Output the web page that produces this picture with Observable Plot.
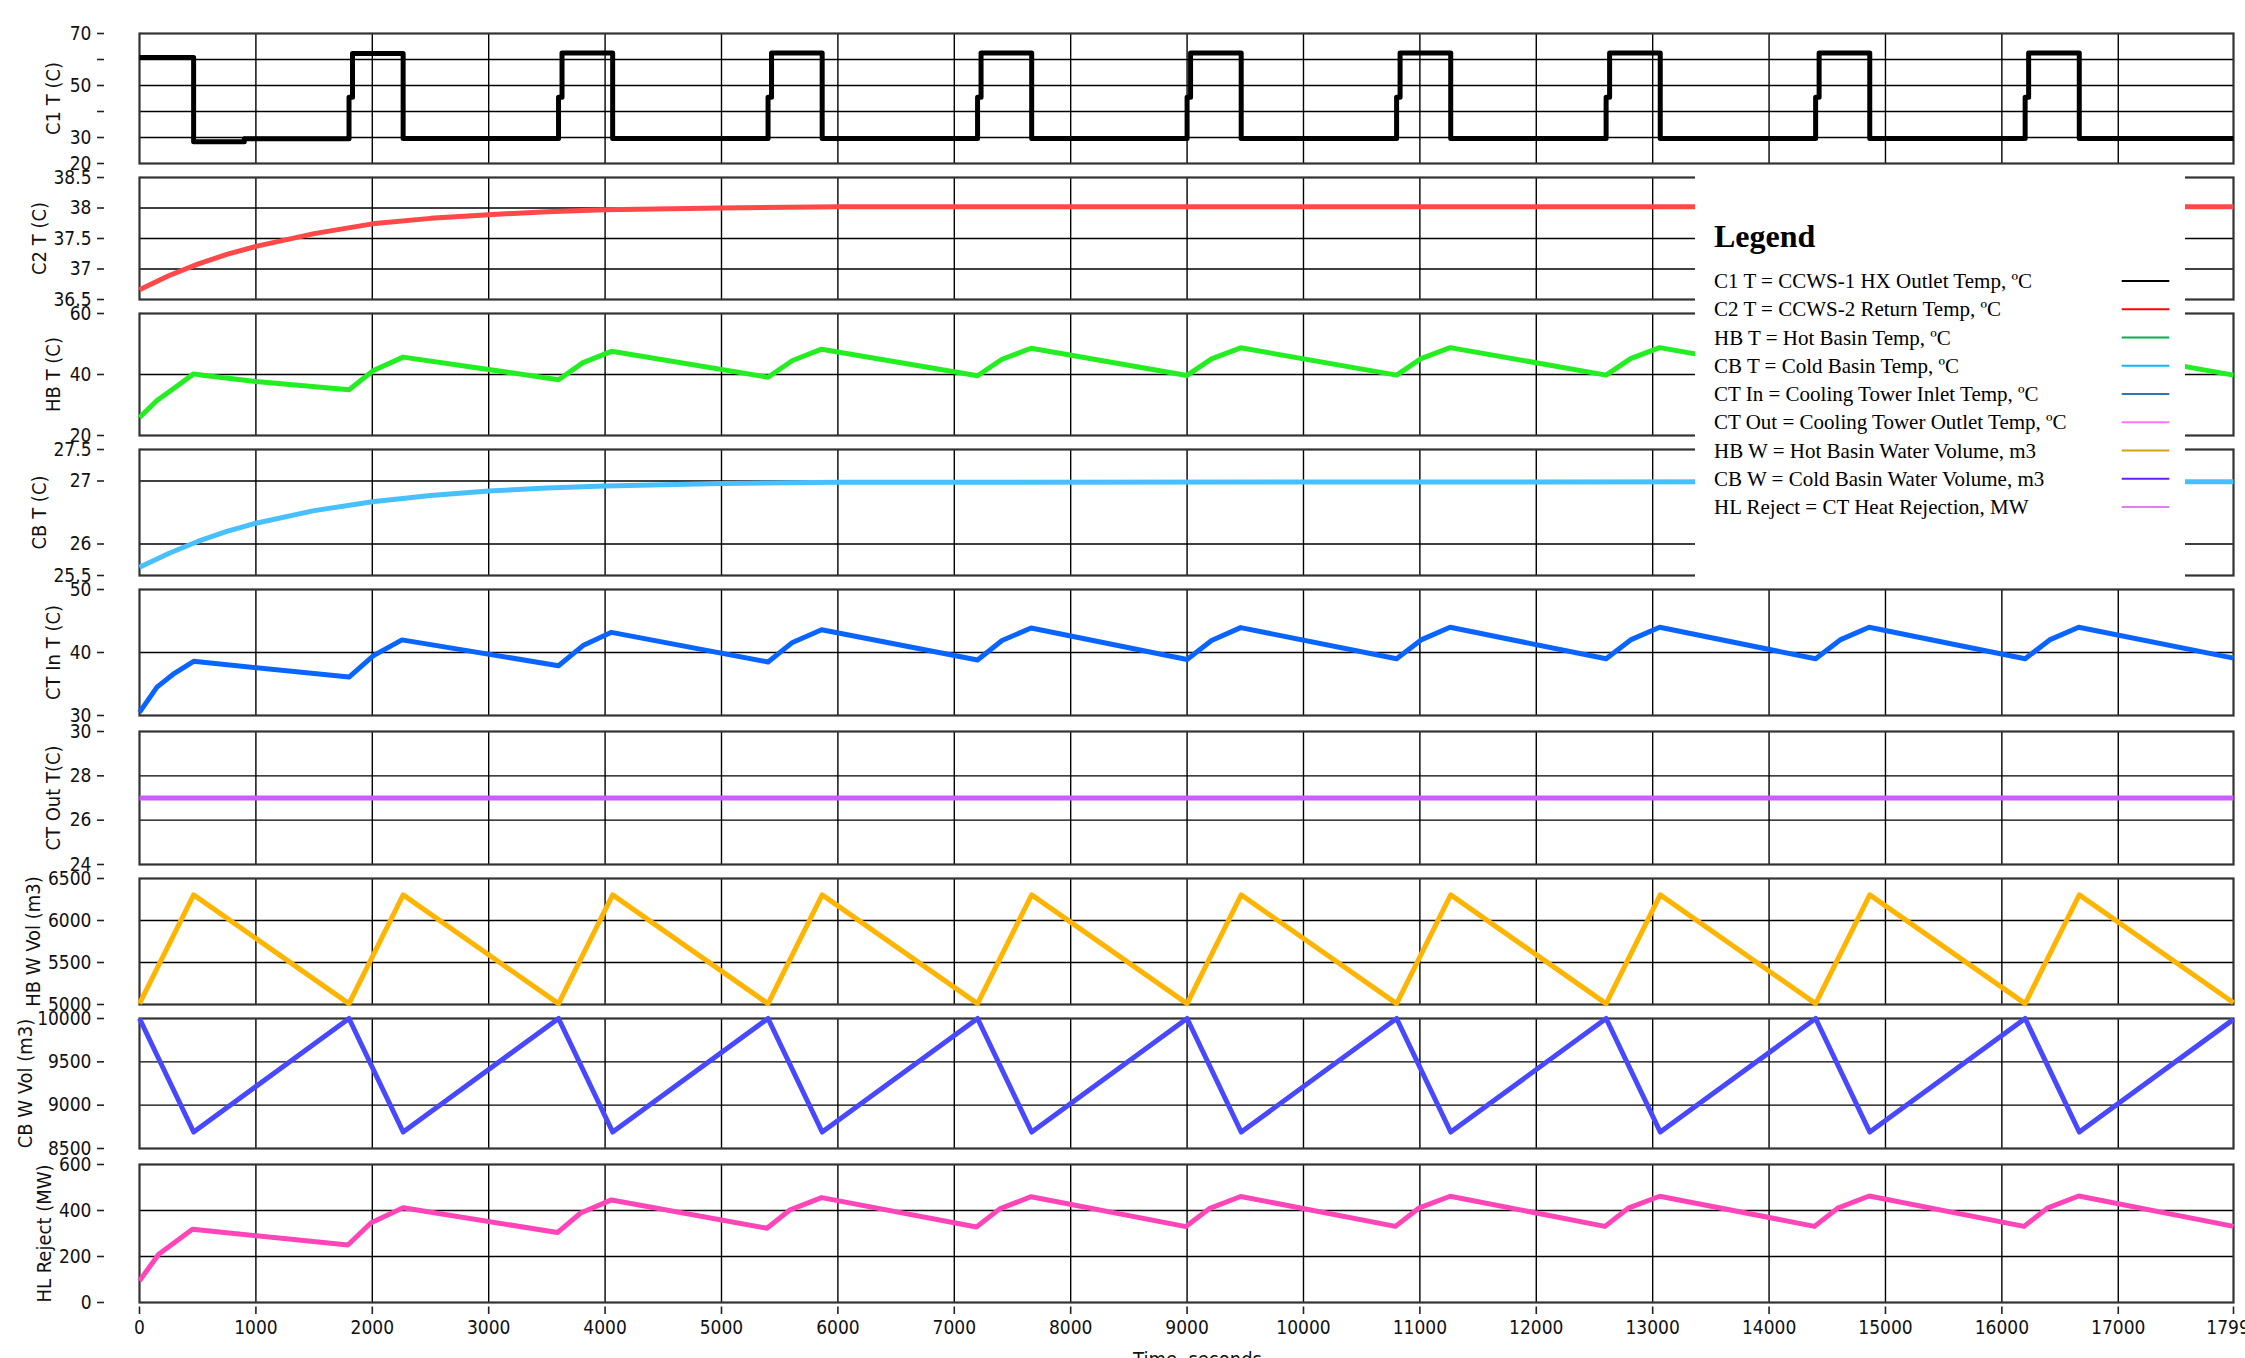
<!DOCTYPE html>
<html>
<head>
<meta charset="utf-8">
<script src="https://cdn.jsdelivr.net/npm/d3@7"></script>
<script src="https://cdn.jsdelivr.net/npm/@observablehq/plot@0.6"></script>
<style>
html, body { margin: 0; padding: 0; background: #fff; overflow: hidden; width: 2245px; height: 1358px; }
#chart { position: relative; width: 2245px; height: 1358px; overflow: hidden; }
.panel { position: absolute; left: 0; }
#legend { position: absolute; left: 1695px; top: 166px; width: 490px; height: 421px; background: #fff; z-index: 5; }
</style>
</head>
<body>
<div id="chart"></div>
<script>
// ---------------- DATA ----------------
const xTicks = [0, 1000, 2000, 3000, 4000, 5000, 6000, 7000, 8000, 9000, 10000, 11000, 12000, 13000, 14000, 15000, 16000, 17000, 17990];
const xTickLabels = ["0", "1000", "2000", "3000", "4000", "5000", "6000", "7000", "8000", "9000", "10000", "11000", "12000", "13000", "14000", "15000", "16000", "17000", "17990"];
const xGrid = [1000, 2000, 3000, 4000, 5000, 6000, 7000, 8000, 9000, 10000, 11000, 12000, 13000, 14000, 15000, 16000, 17000];

// C1 T: CCWS-1 HX outlet temperature (step pulses)
const c1Time = [0, 465, 465, 900, 900,
  1800, 1800, 1830, 1830, 2265, 2265,
  3600, 3600, 3630, 3630, 4065, 4065,
  5400, 5400, 5430, 5430, 5865, 5865,
  7200, 7200, 7230, 7230, 7665, 7665,
  9000, 9000, 9030, 9030, 9465, 9465,
  10800, 10800, 10830, 10830, 11265, 11265,
  12600, 12600, 12630, 12630, 13065, 13065,
  14400, 14400, 14430, 14430, 14865, 14865,
  16200, 16200, 16230, 16230, 16665, 16665,
  17990];
const c1Value = [60.8, 60.8, 28.4, 28.4, 29.5,
  29.5, 45.5, 45.5, 62.3, 62.3, 29.6,
  29.6, 45.5, 45.5, 62.5, 62.5, 29.6,
  29.6, 45.5, 45.5, 62.5, 62.5, 29.6,
  29.6, 45.5, 45.5, 62.5, 62.5, 29.6,
  29.6, 45.5, 45.5, 62.5, 62.5, 29.6,
  29.6, 45.5, 45.5, 62.5, 62.5, 29.6,
  29.6, 45.5, 45.5, 62.5, 62.5, 29.6,
  29.6, 45.5, 45.5, 62.5, 62.5, 29.6,
  29.6, 45.5, 45.5, 62.5, 62.5, 29.6,
  29.6];

// C2 T: CCWS-2 return temperature
const c2Time = [0, 250, 500, 750, 1000, 1500, 2000, 2500, 3000, 3500, 4000, 5000, 6000, 17990];
const c2Value = [36.66, 36.89, 37.08, 37.24, 37.37, 37.58, 37.74, 37.83, 37.89, 37.94, 37.97, 38.0, 38.02, 38.02];

// HB T: hot basin temperature
const hbTime = [0, 150, 300, 465, 560, 1000, 1800, 2010, 2265, 3600, 3810, 4055, 5400, 5610, 5860, 7200, 7410, 7660, 9000, 9210, 9460, 10800, 11010, 11260, 12600, 12810, 13060, 14400, 14610, 14860, 16200, 16410, 16660, 17990];
const hbValue = [25.9, 31.5, 35.6, 40.2, 39.7, 37.7, 35.0, 41.3, 45.7, 38.3, 43.9, 47.6, 39.1, 44.6, 48.3, 39.6, 45.0, 48.6, 39.7, 45.1, 48.75, 39.8, 45.2, 48.8, 39.8, 45.2, 48.8, 39.8, 45.2, 48.8, 39.8, 45.2, 48.8, 39.8];

// CB T: cold basin temperature
const cbTime = [0, 250, 500, 750, 1000, 1500, 2000, 2500, 3000, 3500, 4000, 5000, 6000, 17990];
const cbValue = [25.63, 25.85, 26.04, 26.2, 26.33, 26.53, 26.67, 26.77, 26.84, 26.89, 26.92, 26.96, 26.98, 26.99];

// CT In: cooling tower inlet temperature
const ctInTime = [0, 150, 300, 465, 1800, 2010, 2255, 3600, 3810, 4055, 5400, 5610, 5860, 7200, 7410, 7660, 9000, 9210, 9460, 10800, 11010, 11260, 12600, 12810, 13060, 14400, 14610, 14860, 16200, 16410, 16660, 17990];
const ctInValue = [30.5, 34.5, 36.7, 38.6, 36.1, 39.5, 42.0, 37.9, 41.1, 43.2, 38.5, 41.6, 43.6, 38.8, 41.9, 43.9, 38.9, 41.9, 43.95, 39.0, 42.0, 44.0, 39.0, 42.0, 44.0, 39.0, 42.0, 44.0, 39.0, 42.0, 44.0, 39.1];

// CT Out: cooling tower outlet temperature
const ctOutTime = [0, 17990];
const ctOutValue = [27.0, 27.0];

// HB W: hot basin water volume
const hbwTime = [0, 465, 1800, 2265, 3600, 4065, 5400, 5865, 7200, 7665, 9000, 9465, 10800, 11265, 12600, 13065, 14400, 14865, 16200, 16665, 17990];
const hbwValue = [5010, 6305, 5010, 6305, 5010, 6305, 5010, 6305, 5010, 6305, 5010, 6305, 5010, 6305, 5010, 6305, 5010, 6305, 5010, 6305, 5020];

// CB W: cold basin water volume
const cbwTime = [0, 465, 1800, 2265, 3600, 4065, 5400, 5865, 7200, 7665, 9000, 9465, 10800, 11265, 12600, 13065, 14400, 14865, 16200, 16665, 17990];
const cbwValue = [10000, 8690, 10000, 8690, 10000, 8690, 10000, 8690, 10000, 8690, 10000, 8690, 10000, 8690, 10000, 8690, 10000, 8690, 10000, 8690, 9990];

// HL Reject: CT heat rejection
const hlTime = [0, 165, 455, 1790, 1990, 2265, 3590, 3790, 4055, 5390, 5590, 5860, 7190, 7390, 7660, 8990, 9190, 9460, 10790, 10990, 11260, 12590, 12790, 13060, 14390, 14590, 14860, 16190, 16390, 16660, 17990];
const hlValue = [94, 210, 318, 250, 347, 412, 304, 389, 446, 323, 403, 456, 328, 407, 460, 330, 408, 461, 331, 410, 462, 331, 410, 462, 331, 410, 463, 331, 410, 463, 331];

// Y-axis ticks / labels / gridlines per panel
const c1Ticks = [20, 30, 40, 50, 60, 70];
const c1TickLabels = ["20", "30", "", "50", "", "70"];
const c1Grid = [30, 40, 50, 60];
const c2Ticks = [36.5, 37, 37.5, 38, 38.5];
const c2TickLabels = ["36.5", "37", "37.5", "38", "38.5"];
const c2Grid = [37, 37.5, 38];
const hbTicks = [20, 40, 60];
const hbTickLabels = ["20", "40", "60"];
const hbGrid = [40];
const cbTicks = [25.5, 26, 27, 27.5];
const cbTickLabels = ["25.5", "26", "27", "27.5"];
const cbGrid = [26, 27];
const ctInTicks = [30, 40, 50];
const ctInTickLabels = ["30", "40", "50"];
const ctInGrid = [40];
const ctOutTicks = [24, 26, 28, 30];
const ctOutTickLabels = ["24", "26", "28", "30"];
const ctOutGrid = [26, 28];
const hbwTicks = [5000, 5500, 6000, 6500];
const hbwTickLabels = ["5000", "5500", "6000", "6500"];
const hbwGrid = [5500, 6000];
const cbwTicks = [8500, 9000, 9500, 10000];
const cbwTickLabels = ["8500", "9000", "9500", "10000"];
const cbwGrid = [9000, 9500];
const hlTicks = [0, 200, 400, 600];
const hlTickLabels = ["0", "200", "400", "600"];
const hlGrid = [200, 400];

const panelLabels = ["C1 T (C)", "C2 T (C)", "HB T (C)", "CB T (C)", "CT In T (C)", "CT Out T(C)", "HB W Vol (m3)", "CB W Vol (m3)", "HL Reject (MW)"];
const xAxisLabel = "Time, seconds";

const legendTitle = "Legend";
const legendLabels = [
  "C1 T = CCWS-1 HX Outlet Temp, ºC",
  "C2 T = CCWS-2 Return Temp, ºC",
  "HB T = Hot Basin Temp, ºC",
  "CB T = Cold Basin Temp, ºC",
  "CT In = Cooling Tower Inlet Temp, ºC",
  "CT Out = Cooling Tower Outlet Temp, ºC",
  "HB W = Hot Basin Water Volume, m3",
  "CB W = Cold Basin Water Volume, m3",
  "HL Reject = CT Heat Rejection, MW"
];
const legendColors = ["#000000", "#ff0000", "#00b050", "#19b4f8", "#2e75b6", "#ff77ff", "#d4a010", "#6a1ef5", "#dd80ee"];

// ---------------- LAYOUT / STYLE ----------------
const series = [
  {time: c1Time, value: c1Value, domain: [20, 70], ticks: c1Ticks, tickLabels: c1TickLabels, grid: c1Grid},
  {time: c2Time, value: c2Value, domain: [36.5, 38.5], ticks: c2Ticks, tickLabels: c2TickLabels, grid: c2Grid},
  {time: hbTime, value: hbValue, domain: [20, 60], ticks: hbTicks, tickLabels: hbTickLabels, grid: hbGrid},
  {time: cbTime, value: cbValue, domain: [25.5, 27.5], ticks: cbTicks, tickLabels: cbTickLabels, grid: cbGrid},
  {time: ctInTime, value: ctInValue, domain: [30, 50], ticks: ctInTicks, tickLabels: ctInTickLabels, grid: ctInGrid},
  {time: ctOutTime, value: ctOutValue, domain: [24, 30], ticks: ctOutTicks, tickLabels: ctOutTickLabels, grid: ctOutGrid},
  {time: hbwTime, value: hbwValue, domain: [5000, 6500], ticks: hbwTicks, tickLabels: hbwTickLabels, grid: hbwGrid},
  {time: cbwTime, value: cbwValue, domain: [8500, 10000], ticks: cbwTicks, tickLabels: cbwTickLabels, grid: cbwGrid},
  {time: hlTime, value: hlValue, domain: [0, 600], ticks: hlTicks, tickLabels: hlTickLabels, grid: hlGrid}
];
const lineColors = ["#000000", "#ff4848", "#22ee22", "#48c0ff", "#0a64ff", "#cc5cff", "#ffb400", "#4848ff", "#ff45b8"];
const panelTops = [33, 177, 313, 449, 589, 731, 878, 1018, 1164];
const panelBottoms = [163, 299, 435, 575, 715, 864, 1004, 1148, 1302];
const labelXs = [53, 39, 53, 39, 53, 53, 33, 25, 44];

const W = 2245, ML = 139, MR = 12;
const FONT = "'DejaVu Sans Condensed', 'DejaVu Sans', sans-serif";
const chart = document.getElementById("chart");

series.forEach((s, i) => {
  const last = i === series.length - 1;
  const mt = 14, mb = last ? 56 : 14;
  const h = panelBottoms[i] - panelTops[i] + mt + mb;
  const rows = s.time.map((t, j) => ({t, v: s.value[j]}));
  const labelMap = new Map(s.ticks.map((d, j) => [d, s.tickLabels[j]]));
  const xLabelMap = new Map(xTicks.map((d, j) => [d, xTickLabels[j]]));
  const marks = [
    Plot.gridX(xGrid, {stroke: "#000", strokeOpacity: 1, strokeWidth: 1.4}),
    Plot.gridY(s.grid, {stroke: "#000", strokeOpacity: 1, strokeWidth: 1.4}),
    Plot.frame({stroke: "#333", strokeWidth: 2.2}),
    Plot.line(rows, {x: "t", y: "v", stroke: lineColors[i], strokeWidth: 5, strokeLinejoin: "round", strokeLinecap: "butt"}),
    Plot.axisY(s.ticks, {tickFormat: d => labelMap.get(d), tickSize: 7, tickPadding: 6, dx: -35, label: null, stroke: "#222", strokeWidth: 1.6, fill: "#111"}),
    Plot.text([panelLabels[i]], {text: d => d, frameAnchor: "left", rotate: -90, dx: labelXs[i] - ML, fill: "#111", fontSize: 20, textAnchor: "middle"})
  ];
  if (last) {
    marks.push(Plot.axisX(xTicks, {tickFormat: d => xLabelMap.get(d), tickSize: 7.5, tickPadding: 6, dy: 4.5, label: null, stroke: "#222", strokeWidth: 1.6, fill: "#111"}));
    marks.push(Plot.text([xAxisLabel], {text: d => d, frameAnchor: "bottom", lineAnchor: "top", dy: 49, dx: 11, fill: "#111", fontSize: 20}));
  }
  const svg = Plot.plot({
    width: W,
    height: h,
    marginLeft: ML,
    marginRight: MR,
    marginTop: mt,
    marginBottom: mb,
    x: last ? {domain: [0, 17990]} : {domain: [0, 17990], axis: null},
    y: {domain: s.domain},
    style: {background: "transparent", overflow: "visible", fontSize: "19px", fontFamily: FONT, color: "#111", maxWidth: "none"},
    marks
  });
  svg.classList.add("panel");
  svg.style.top = (panelTops[i] - mt) + "px";
  chart.appendChild(svg);
});

// Legend box
const legendDiv = document.createElement("div");
legendDiv.id = "legend";
chart.appendChild(legendDiv);
const lg = d3.select(legendDiv).append("svg").attr("width", 490).attr("height", 421)
  .style("font-family", "'Liberation Serif', 'Times New Roman', serif");
lg.append("text").attr("x", 19).attr("y", 80.7).attr("font-size", 32).attr("font-weight", "bold").attr("fill", "#000").text(legendTitle);
legendLabels.forEach((lab, i) => {
  const base = 122 + 28.25 * i;
  lg.append("text").attr("x", 19).attr("y", base).attr("font-size", 21).attr("fill", "#000").text(lab);
  lg.append("line").attr("x1", 426.7).attr("x2", 474.3).attr("y1", base - 7).attr("y2", base - 7)
    .attr("stroke", legendColors[i]).attr("stroke-width", 2.2);
});
</script>
</body>
</html>
